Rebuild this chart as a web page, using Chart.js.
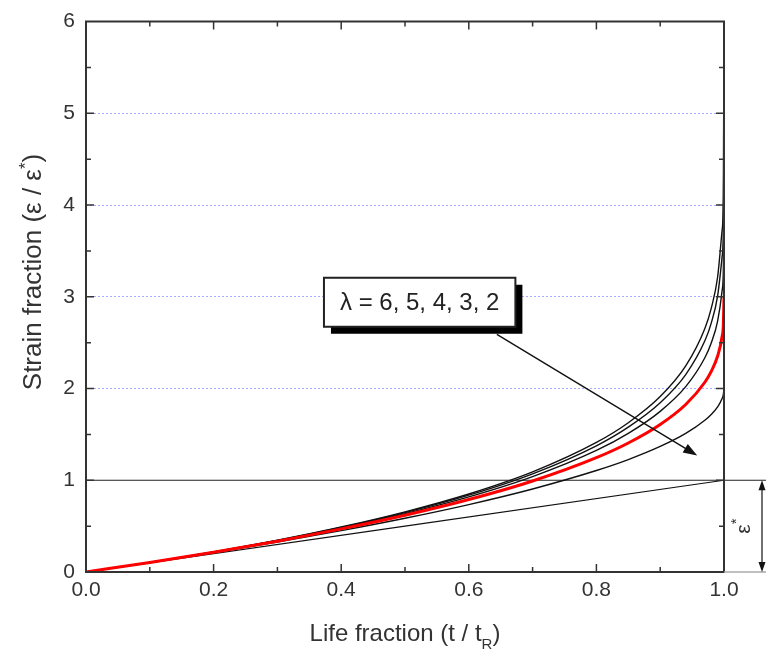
<!DOCTYPE html>
<html>
<head>
<meta charset="utf-8">
<script src="https://cdn.jsdelivr.net/npm/chart.js@4.4.1/dist/chart.umd.min.js"></script>
<style>
  html, body { margin: 0; padding: 0; background: #fff; }
  #wrap { width: 766px; height: 652px; }
</style>
</head>
<body>
<div id="wrap"><canvas id="creepChart"></canvas></div>
<script>
// life fraction t / tR (shared by all curves)
const lifeFraction = [0, 0.1, 0.2, 0.3, 0.4, 0.5, 0.6, 0.7, 0.8, 0.85, 0.9, 0.94, 0.97, 0.98, 0.99, 0.997, 0.999, 1.0];

// strain fraction
const strainL6 = [0, 0.104, 0.219, 0.346, 0.490, 0.655, 0.850, 1.091, 1.412, 1.627, 1.912, 2.246, 2.655, 2.874, 3.215, 3.722, 4.103, 6.0];
const strainL5 = [0, 0.104, 0.218, 0.344, 0.486, 0.647, 0.837, 1.070, 1.376, 1.579, 1.845, 2.152, 2.520, 2.713, 3.009, 3.435, 3.744, 5.0];
const strainL4 = [0, 0.104, 0.217, 0.341, 0.480, 0.636, 0.819, 1.040, 1.325, 1.511, 1.751, 2.020, 2.335, 2.496, 2.735, 3.064, 3.289, 4.0];
const strainL3 = [0, 0.104, 0.215, 0.336, 0.470, 0.619, 0.790, 0.992, 1.246, 1.406, 1.608, 1.826, 2.068, 2.186, 2.354, 2.567, 2.700, 3.0];
const strainL2 = [0, 0.103, 0.211, 0.327, 0.451, 0.586, 0.735, 0.905, 1.106, 1.225, 1.368, 1.510, 1.654, 1.717, 1.800, 1.890, 1.937, 2.0];

// straight line (lambda = 1)
const lineLife = [0, 1.0];
const lineStrain = [0, 1.0];

const dottedLevels = [2, 3, 4, 5];
const boxText = 'λ = 6, 5, 4, 3, 2';
const boxAt = [0.523, 2.94];          // box centre in data units
const arrowFrom = [0.644, 2.59];
const arrowTo = [0.958, 1.27];

const FONT = '"Liberation Sans", Arial, Helvetica, sans-serif';

function pts(xs, ys) {
  return xs.map((x, i) => ({ x: x, y: ys[i] }));
}

function curve(label, xs, ys, color, width, order) {
  return {
    label: label,
    data: pts(xs, ys),
    borderColor: color,
    borderWidth: width,
    pointRadius: 0,
    fill: false,
    cubicInterpolationMode: 'monotone',
    order: order
  };
}

// draws text with sub/superscript pieces, centred on x
function richText(ctx, parts, x, y) {
  let total = 0;
  parts.forEach(p => {
    ctx.font = p.size + 'px ' + FONT;
    p.w = ctx.measureText(p.t).width;
    total += p.w;
  });
  let cx = x - total / 2;
  parts.forEach(p => {
    ctx.font = p.size + 'px ' + FONT;
    ctx.fillText(p.t, cx, y + (p.dy || 0));
    cx += p.w;
  });
}

function arrowHead(ctx, x0, y0, x1, y1, len, half) {
  const ang = Math.atan2(y1 - y0, x1 - x0);
  ctx.beginPath();
  ctx.moveTo(x1, y1);
  ctx.lineTo(x1 - len * Math.cos(ang) + half * Math.sin(ang), y1 - len * Math.sin(ang) - half * Math.cos(ang));
  ctx.lineTo(x1 - len * Math.cos(ang) - half * Math.sin(ang), y1 - len * Math.sin(ang) + half * Math.cos(ang));
  ctx.closePath();
  ctx.fill();
}

const annotate = {
  id: 'annotate',
  beforeDatasetsDraw(chart) {
    const { ctx, chartArea: a, scales: { y } } = chart;
    const y1 = y.getPixelForValue(1);
    ctx.save();
    ctx.strokeStyle = '#222';
    ctx.lineWidth = 1.2;
    ctx.beginPath();
    ctx.moveTo(a.left, y1);
    ctx.lineTo(chart.width, y1);
    ctx.stroke();
    ctx.restore();
  },
  afterDatasetsDraw(chart) {
    const { ctx, chartArea: a, scales: { x, y } } = chart;
    ctx.save();

    // frame
    ctx.strokeStyle = '#333';
    ctx.lineWidth = 2;
    ctx.strokeRect(a.left, a.top, a.right - a.left, a.bottom - a.top);

    // bottom axis runs on faintly past 1.0
    ctx.strokeStyle = '#aaa';
    ctx.lineWidth = 1.5;
    ctx.beginPath();
    ctx.moveTo(a.right, a.bottom);
    ctx.lineTo(chart.width, a.bottom);
    ctx.stroke();

    // inward ticks on all four sides
    ctx.strokeStyle = '#333';
    ctx.lineWidth = 1.5;
    ctx.beginPath();
    for (let i = 1; i < 10; i++) {
      const px = x.getPixelForValue(i / 10);
      const len = i % 2 === 0 ? 8 : 5;
      ctx.moveTo(px, a.bottom); ctx.lineTo(px, a.bottom - len);
      ctx.moveTo(px, a.top); ctx.lineTo(px, a.top + len);
    }
    for (let i = 1; i < 12; i++) {
      const py = y.getPixelForValue(i / 2);
      const len = i % 2 === 0 ? 8 : 5;
      ctx.moveTo(a.left, py); ctx.lineTo(a.left + len, py);
      ctx.moveTo(a.right, py); ctx.lineTo(a.right - len, py);
    }
    ctx.stroke();

    // arrow from label to the curves
    const ax0 = x.getPixelForValue(arrowFrom[0]), ay0 = y.getPixelForValue(arrowFrom[1]);
    const ax1 = x.getPixelForValue(arrowTo[0]), ay1 = y.getPixelForValue(arrowTo[1]);
    const ang = Math.atan2(ay1 - ay0, ax1 - ax0);
    ctx.strokeStyle = '#111';
    ctx.fillStyle = '#111';
    ctx.lineWidth = 1.4;
    ctx.beginPath();
    ctx.moveTo(ax0, ay0);
    ctx.lineTo(ax1 - 8 * Math.cos(ang), ay1 - 8 * Math.sin(ang));
    ctx.stroke();
    arrowHead(ctx, ax0, ay0, ax1, ay1, 14, 5);

    // label box with drop shadow
    ctx.font = '24px ' + FONT;
    const tw = ctx.measureText(boxText).width;
    const bw = tw + 32, bh = 49;
    const bx = x.getPixelForValue(boxAt[0]) - bw / 2;
    const by = y.getPixelForValue(boxAt[1]) - bh / 2;
    ctx.fillStyle = '#000';
    ctx.fillRect(bx + 7, by + 7, bw, bh);
    ctx.fillStyle = '#fff';
    ctx.fillRect(bx, by, bw, bh);
    ctx.strokeStyle = '#222';
    ctx.lineWidth = 2;
    ctx.strokeRect(bx, by, bw, bh);
    ctx.fillStyle = '#222';
    ctx.textAlign = 'center';
    ctx.textBaseline = 'middle';
    ctx.fillText(boxText, bx + bw / 2, by + bh / 2 + 1);

    // epsilon* marker: double arrow between y = 0 and y = 1
    const y0p = y.getPixelForValue(0), y1p = y.getPixelForValue(1);
    const mx = chart.width - 4;
    ctx.strokeStyle = '#111';
    ctx.fillStyle = '#111';
    ctx.lineWidth = 1.2;
    ctx.beginPath();
    ctx.moveTo(mx, y1p + 6);
    ctx.lineTo(mx, y0p - 6);
    ctx.stroke();
    arrowHead(ctx, mx, y0p, mx, y1p, 10, 3.5);
    arrowHead(ctx, mx, y1p, mx, y0p, 10, 3.5);

    ctx.save();
    ctx.translate(743, (y0p + y1p) / 2);
    ctx.rotate(-Math.PI / 2);
    ctx.textAlign = 'left';
    ctx.textBaseline = 'alphabetic';
    ctx.fillStyle = '#333';
    richText(ctx, [{ t: 'ε', size: 21 }, { t: '*', size: 15, dy: -9 }], 0, 7);
    ctx.restore();

    ctx.restore();
  },
  afterDraw(chart) {
    const { ctx } = chart;
    ctx.save();
    ctx.fillStyle = '#333';
    ctx.textAlign = 'left';
    ctx.textBaseline = 'alphabetic';

    // x title
    richText(ctx, [
      { t: 'Life fraction (t / t', size: 24 },
      { t: 'R', size: 15, dy: 8 },
      { t: ')', size: 24 }
    ], 405, 641);

    // y title
    ctx.translate(41, 272);
    ctx.rotate(-Math.PI / 2);
    richText(ctx, [
      { t: 'Strain fraction (ε / ε', size: 26 },
      { t: '*', size: 17, dy: -10 },
      { t: ')', size: 26 }
    ], 0, 0);
    ctx.restore();
  }
};

const tickFont = { family: FONT, size: 21, lineHeight: 1 };

new Chart(document.getElementById('creepChart'), {
  type: 'line',
  data: {
    datasets: [
      curve('λ = 6', lifeFraction, strainL6, '#111', 1.4, 1),
      curve('λ = 5', lifeFraction, strainL5, '#111', 1.4, 1),
      curve('λ = 4', lifeFraction, strainL4, '#111', 1.4, 1),
      curve('λ = 3', lifeFraction, strainL3, '#ff0000', 3, 0),
      curve('λ = 2', lifeFraction, strainL2, '#111', 1.4, 1),
      curve('λ = 1', lineLife, lineStrain, '#111', 1.2, 1)
    ]
  },
  options: {
    responsive: true,
    maintainAspectRatio: false,
    devicePixelRatio: 1,
    animation: false,
    layout: { padding: { top: 18, right: 42, left: 0, bottom: 0 } },
    plugins: {
      legend: { display: false },
      tooltip: { enabled: false }
    },
    scales: {
      x: {
        type: 'linear',
        min: 0,
        max: 1,
        grid: { display: false, drawTicks: false },
        border: { display: false },
        ticks: {
          stepSize: 0.2,
          padding: 8,
          color: '#333',
          font: tickFont,
          maxRotation: 0,
          callback: v => v.toFixed(1)
        },
        afterFit: s => { s.height = 80; }
      },
      y: {
        type: 'linear',
        min: 0,
        max: 6,
        grid: {
          drawTicks: false,
          lineWidth: 1,
          color: c => (c.tick && dottedLevels.includes(c.tick.value)) ? 'rgba(100,100,255,0.55)' : 'rgba(0,0,0,0)'
        },
        border: { display: false, dash: [2, 2] },
        ticks: {
          stepSize: 1,
          padding: 11,
          color: '#333',
          font: tickFont
        },
        afterFit: s => { s.width = 86; }
      }
    }
  },
  plugins: [annotate]
});
</script>
</body>
</html>
